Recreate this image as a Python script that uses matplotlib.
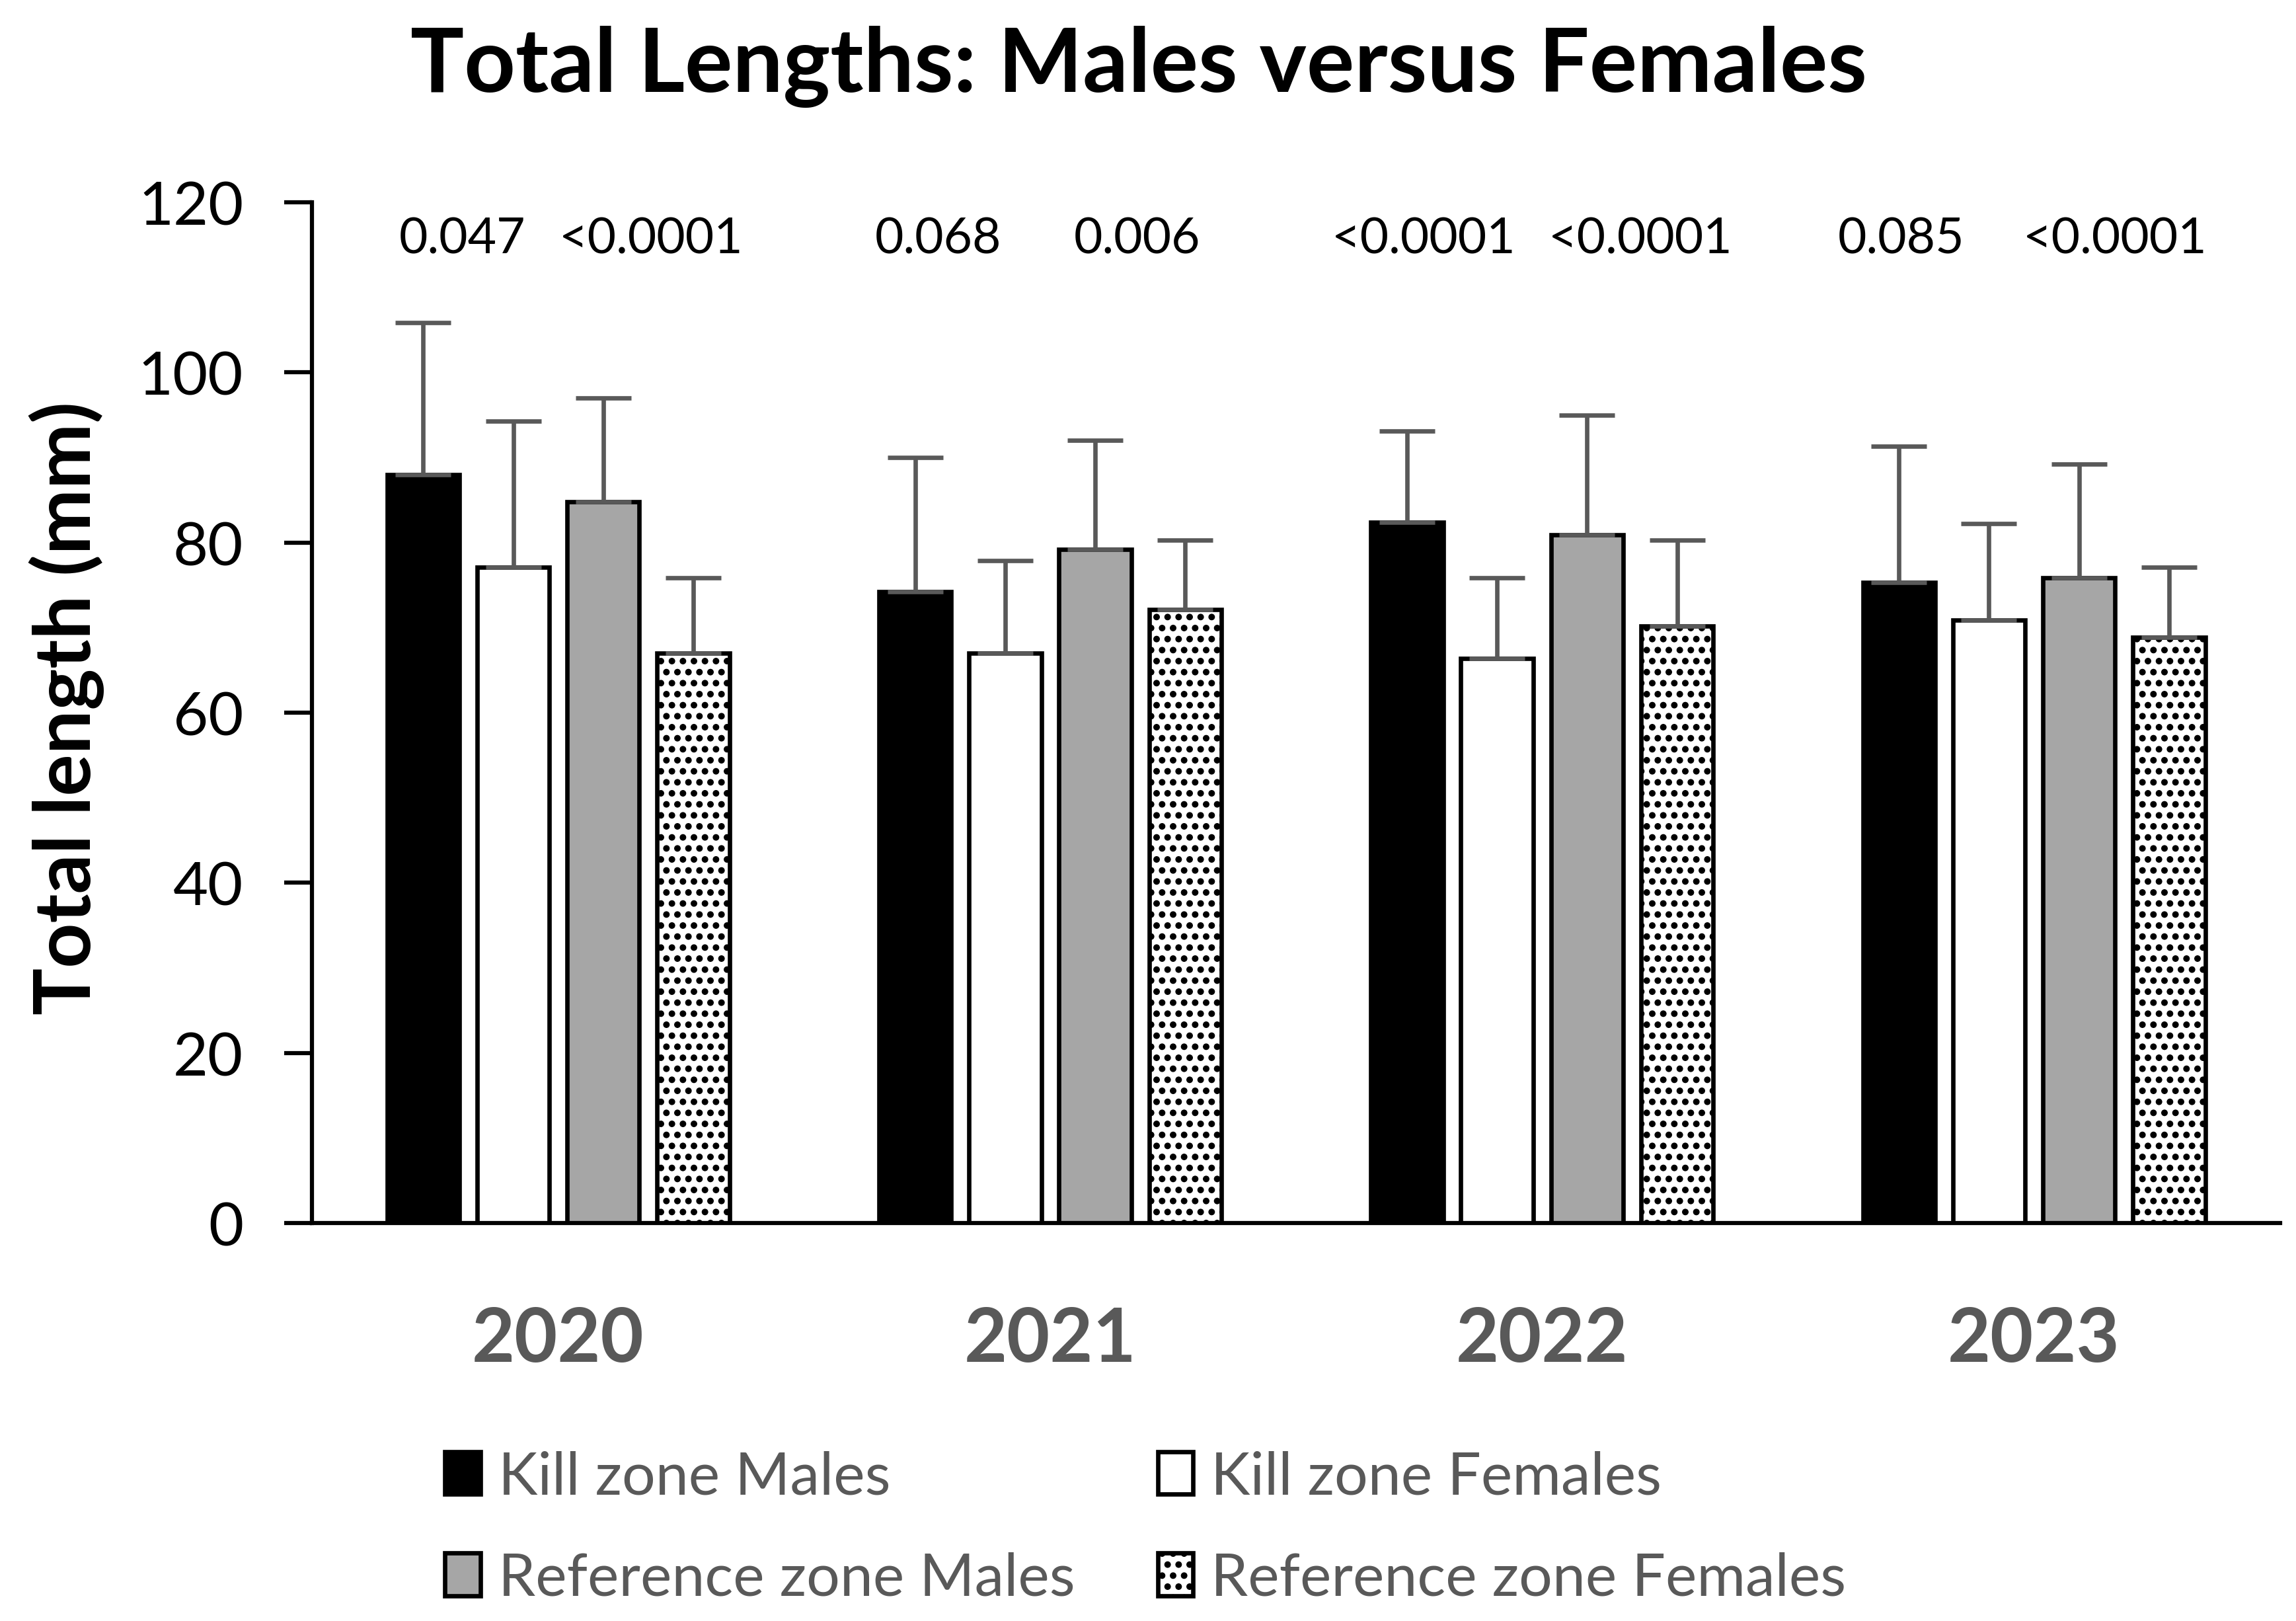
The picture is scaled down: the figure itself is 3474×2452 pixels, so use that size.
import matplotlib
matplotlib.use("Agg")
import matplotlib.pyplot as plt
import matplotlib.hatch as mhatch
from matplotlib.patches import Patch
import numpy as np

# ---------------- data ----------------
years = ["2020", "2021", "2022", "2023"]
series_names = ["Kill zone Males", "Kill zone Females",
                "Reference zone Males", "Reference zone Females"]
kz_males = [88.0, 74.2, 82.4, 75.3]
kz_males_err = [17.9, 15.8, 10.7, 16.0]
kz_females = [77.1, 67.0, 66.4, 70.9]
kz_females_err = [17.2, 10.9, 9.5, 11.3]
ref_males = [84.8, 79.2, 80.9, 75.9]
ref_males_err = [12.2, 12.8, 14.1, 13.3]
ref_females = [67.0, 72.1, 70.2, 68.9]
ref_females_err = [8.9, 8.2, 10.1, 8.2]
p_kill = ["0.047", "0.068", "<0.0001", "0.085"]
p_ref = ["<0.0001", "0.006", "<0.0001", "<0.0001"]
yticks = [0, 20, 40, 60, 80, 100, 120]

# ---------------- style ----------------
mhatch.SmallFilledCircles.size = 0.26
plt.rcParams['hatch.linewidth'] = 0.3
plt.rcParams['hatch.color'] = 'black'
FONT = ['Lato', 'DejaVu Sans']
plt.rcParams['font.family'] = FONT

DARKGRAY = '#595959'
fig = plt.figure(figsize=(3474 / 300, 2453 / 300), dpi=300)
ax = fig.add_axes([0.136, 0.2454, 0.857, 0.6294])

x = np.arange(len(years))
width = 0.147
step = 0.183
values = [kz_males, kz_females, ref_males, ref_females]
errs = [kz_males_err, kz_females_err, ref_males_err, ref_females_err]
faces = ['black', 'white', '#A6A6A6', 'white']
hatches = [None, None, None, '...']
handles = []
for i, (vals, er) in enumerate(zip(values, errs)):
    pos = x + (i - 1.5) * step
    ax.bar(pos, vals, width, color=faces[i], edgecolor='black',
           linewidth=1.6, hatch=hatches[i], zorder=2)
    ax.errorbar(pos, vals, yerr=[np.zeros(len(vals)), er], fmt='none',
                ecolor=DARKGRAY, elinewidth=1.6, capsize=10, capthick=1.6,
                zorder=3)
    handles.append(Patch(facecolor=faces[i], edgecolor='black',
                         linewidth=1.6, hatch=hatches[i], label=series_names[i]))

# p-value annotations
left_off = [-0.195, -0.228, -0.24, -0.27]
right_off = [0.189, 0.177, 0.2, 0.165]
for xi, pk, pr, lo, ro in zip(x, p_kill, p_ref, left_off, right_off):
    ax.text(xi + lo, 115.7, pk, ha='center', va='center', fontsize=18,
            color='black')
    ax.text(xi + ro, 115.7, pr, ha='center', va='center', fontsize=18,
            color='black')

ax.set_xlim(-0.5, 3.5)
ax.set_ylim(0, 120)
ax.set_yticks(yticks)
ax.set_yticklabels([str(t) for t in yticks], fontsize=22, color='black')
ax.set_xticks(x)
ax.set_xticklabels(years, fontsize=27, fontweight='bold', color=DARKGRAY)
ax.tick_params(axis='x', length=0, pad=30)
ax.tick_params(axis='y', length=10, width=1.5, pad=15, color='black')
for s in ['top', 'right']:
    ax.spines[s].set_visible(False)
ax.spines['left'].set_linewidth(1.5)
ax.spines['bottom'].set_linewidth(1.5)

fig.text(0.496, 0.959, "Total Lengths: Males versus Females", ha='center',
         va='center', fontsize=32.5, fontweight='bold', color='black')
fig.text(0.029, 0.5635, "Total length (mm)", ha='center', va='center',
         rotation=90, fontsize=28.5, fontweight='bold', color='black')

order = [0, 2, 1, 3]
leg = fig.legend([handles[k] for k in order], [series_names[k] for k in order],
                 ncol=2, loc='center left', bbox_to_anchor=(0.1937, 0.0575),
                 frameon=False, fontsize=21.5, handlelength=0.6,
                 handleheight=0.73, handletextpad=0.3, columnspacing=1.4,
                 labelspacing=0.8, borderpad=0, borderaxespad=0)
for t in leg.get_texts():
    t.set_color(DARKGRAY)

fig.savefig("out.png", dpi=300)
